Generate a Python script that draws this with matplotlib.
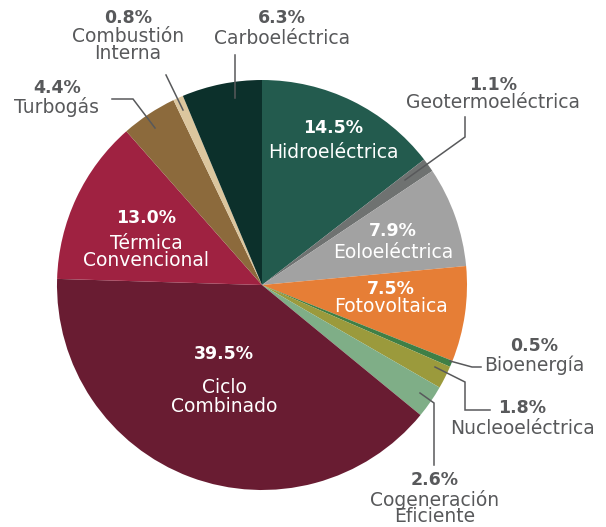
import matplotlib
matplotlib.use("Agg")
from matplotlib import pyplot as plt

# generation share by technology, clockwise from 12 o'clock
labels = ["Hidroeléctrica", "Geotermoeléctrica", "Eoloeléctrica", "Fotovoltaica",
          "Bioenergía", "Nucleoeléctrica", "Cogeneración\nEficiente", "Ciclo\nCombinado",
          "Térmica\nConvencional", "Turbogás", "Combustión\nInterna", "Carboeléctrica"]
shares = [14.5, 1.1, 7.9, 7.5, 0.5, 1.8, 2.6, 39.5, 13.0, 4.4, 0.8, 6.3]
colors = ["#235b4e", "#6f7271", "#a2a2a2", "#e67e36", "#3f7f46", "#9b9a3c",
          "#7fae87", "#691c32", "#9f2241", "#8c6a3c", "#dcc69e", "#0c302b"]

H = 527  # image height, used to flip y


def fy(y):
    return H - y


fig = plt.figure(figsize=(6.06, 5.27), dpi=100)
ax = fig.add_axes([0, 0, 1, 1])
ax.pie(shares, colors=colors, startangle=90, counterclock=False,
       center=(262, fy(285)), radius=205, wedgeprops=dict(linewidth=0))
ax.set_xlim(0, 606)
ax.set_ylim(0, H)
ax.set_aspect("equal")
ax.axis("off")

GRAY = "#58595b"


def label(i, x, y, color, dy, ls=0.82):
    # bold percent on top, name centred dy pixels below
    ax.text(x, fy(y), f"{shares[i]:.1f}%", ha="center", va="center",
            fontsize=12.5, fontweight="bold", color=color)
    ax.text(x, fy(y + dy), labels[i], ha="center", va="center",
            fontsize=13.5, color=color, linespacing=ls, multialignment="center")


# inside labels
label(0, 333, 128, "white", 24)
label(2, 393, 231, "white", 21)
label(3, 391, 289, "white", 18)
label(8, 146, 218, "white", 34, ls=0.92)
label(7, 224, 354, "white", 43, ls=0.97)

# outside labels
label(1, 493, 85, GRAY, 18)
label(4, 534, 346, GRAY, 19)
label(5, 522, 408, GRAY, 20)
label(6, 435, 480, GRAY, 28, ls=0.78)
label(9, 57, 88, GRAY, 19)
label(10, 128, 18, GRAY, 27)
label(11, 282, 18, GRAY, 20)

# leader lines (pixel coords)
leaders = [
    [(405, 180), (465, 137), (465, 117)],
    [(450, 361), (472, 367), (481, 367)],
    [(435, 367), (465, 382), (465, 410), (490, 410)],
    [(420, 393), (434, 403), (434, 465)],
    [(112, 99), (133, 99), (155, 128)],
    [(166, 75), (183, 110)],
    [(235, 55), (235, 98)],
]
for pts in leaders:
    xs = [p[0] for p in pts]
    ys = [fy(p[1]) for p in pts]
    ax.plot(xs, ys, color=GRAY, lw=1.1, solid_joinstyle="miter")

fig.savefig("out.png", dpi=100)
